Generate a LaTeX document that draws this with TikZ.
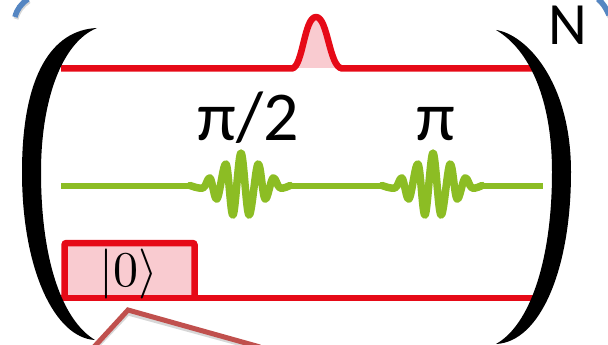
\documentclass[tikz,border=0pt]{standalone}
\usepackage{fontspec}
\setmainfont{Carlito}
\definecolor{qred}{HTML}{E60A17}
\definecolor{qpink}{HTML}{F9CBD0}
\definecolor{qgreen}{HTML}{8CBD24}
\definecolor{qblue}{HTML}{5586C2}
\definecolor{qbrown}{HTML}{C0504D}
\tikzset{
 level/.style={draw=qred,line width=6.5pt},
 wave/.style={draw=qgreen,line width=7.5pt,line cap=round,line join=round},
 shade/.style={draw=black!45,opacity=.35,line width=5pt},
 lbl/.style={inner sep=0pt,anchor=base,font=\fontsize{#1}{#1}\selectfont}
}
\begin{document}
\begin{tikzpicture}[x=1pt,y=-1pt]
\useasboundingbox(0,0)rectangle(608,345);
% arcs of the outer frame
\draw[shade,xshift=1pt,yshift=-2pt](15,17)..controls(17,9)and(21,4)..(28,-1);
\draw[draw=qblue,line width=5.5pt](15,17)..controls(17,9)and(21,4)..(28,-1);
\draw[shade,xshift=1pt,yshift=-2pt](598,-1)..controls(603,3)and(606,8)..(609,15);
\draw[draw=qblue,line width=5.5pt](598,-1)..controls(603,3)and(606,8)..(609,15);
% top level with its pulse
\fill[qpink](293,68)..controls(304,64)and(304,17)..(316,17)..controls(328,17)and(328,64)..(340,68)--cycle;
\draw[level,line join=round](61,68.5)--(292,68.5)..controls(303,67)and(304,17)..(316,17)..controls(328,17)and(329,67)..(342,68.5)--(532,68.5);
% middle level
\draw[wave,line width=6pt,line cap=butt](61,185.5)--(190,185.5);
\draw[wave,line width=6pt](290,185.5)--(382,185.5);
\draw[wave,line width=6pt,line cap=butt](482,185.5)--(543,185.5);
\foreach\wx in{0,192}{
\draw[wave,xshift=\wx pt]plot[smooth,tension=.6]coordinates{(190,185.5)(203,188)(210,178)(217,199)(226,164)(233,215)(241,153)(249,215)(258,164)(265,199)(273,178)(280,188)(290,185.5)};
}
% bottom level with its box
\draw[level,fill=qpink,rounded corners=2pt](64.5,298)--(64.5,243)--(194.5,243)--(194.5,298);
\draw[level](61,298)--(536,298);
\node[inner sep=0pt,scale=5](ket)at(129,274){$|0\rangle$};
% labels
\node[lbl=70](half)at(248,140){π/2};
\node[lbl=70](full)at(436,140){π};
\node[lbl=60](cnt)at(568,45){N};
% big brackets
\fill[black](97,28)..controls(52,30)and(22,75)..(22,172)..controls(22,270)and(55,338)..(95,340)
 ..controls(62,320)and(41,260)..(41,172)..controls(41,100)and(62,42)..(97,28)--cycle;
\fill[black](496,30)..controls(525,34)and(571,80)..(571,172)..controls(571,270)and(540,342)..(496,344)
 ..controls(530,325)and(552,260)..(552,172)..controls(552,100)and(530,50)..(496,30)--cycle;
% callout edge
\draw[shade,yshift=-2pt](94,347)--(128,311)--(260,347);
\draw[draw=qbrown,line width=5pt](94,347)--(128,310)--(260,347);
\end{tikzpicture}
\end{document}
